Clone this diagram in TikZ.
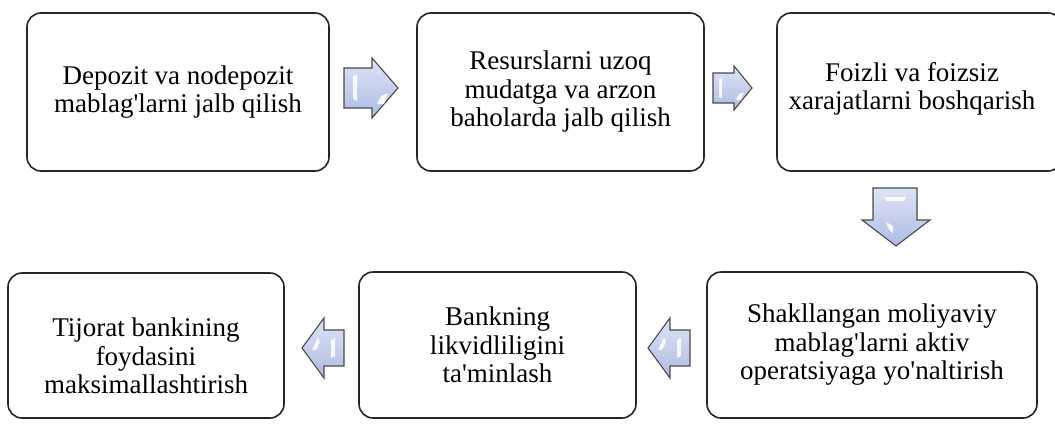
\documentclass[tikz,border=0pt]{standalone}
\usepackage{fontspec}
\setmainfont{Liberation Serif}[Ligatures=TeXOff]
\definecolor{boxline}{HTML}{262626}
\definecolor{arrline}{HTML}{4A4A4A}
\definecolor{arrtop}{HTML}{DDE4F6}
\definecolor{arrbot}{HTML}{AEBCE3}
\begin{document}
\begin{tikzpicture}[x=1pt,y=-1pt,
  box/.style={draw=boxline, line width=1.6pt, rounded corners=14pt, inner sep=0pt},
  txt/.style={align=center, font=\fontsize{27}{28.5}\selectfont, inner sep=0pt},
  flow/.style={draw=arrline, line width=1.1pt, line join=miter, top color=arrtop, bottom color=arrbot},
  gloss/.style={fill=white, opacity=0.85, draw=none}
]
\useasboundingbox (0,0) rectangle (1055,426);
\clip (0,0) rectangle (1055,426);

% top row
\node[box, minimum width=302, minimum height=158, txt] (b1) at (178,92)
  {Depozit va nodepozit\\mablag'larni jalb qilish};
\node[box, minimum width=287, minimum height=158, txt] (b2) at (560.5,92)
  {Resurslarni uzoq\\mudatga va arzon\\baholarda jalb qilish};
\node[box, minimum width=285, minimum height=158] (b3) at (919.5,92) {};
\node[txt] (t3) at (912,89) {Foizli va foizsiz\\xarajatlarni boshqarish};

% bottom row
\node[box, minimum width=330, minimum height=146, txt] (b4) at (872,345)
  {Shakllangan moliyaviy\\mablag'larni aktiv\\operatsiyaga yo'naltirish};
\node[box, minimum width=277, minimum height=146, txt] (b5) at (497.5,345)
  {Bankning\\likvidliligini\\ta'minlash};
\node[box, minimum width=276, minimum height=145] (b6) at (146,345.5) {};
\node[txt] (t6) at (146,356) {Tijorat bankining\\foydasini\\maksimallashtirish};

% block arrows
\draw[flow] (344,68) -- (372,68) -- (372,58) -- (398,88) -- (372,118) -- (372,108) -- (344,108) -- cycle;
\fill[gloss] (353,76) -- (357,74) -- (357,101) -- (353,99) -- cycle;
\fill[gloss] (381,96) -- (388,93) -- (384,104) -- (377,104) -- cycle;

\draw[flow] (713,73) -- (734,73) -- (734,66) -- (752,88) -- (734,110) -- (734,103) -- (713,103) -- cycle;
\fill[gloss] (719,79) -- (722,78) -- (722,98) -- (719,97) -- cycle;
\fill[gloss] (739,94) -- (744,92) -- (741,100) -- (736,100) -- cycle;

\draw[flow] (873,188) -- (917,188) -- (917,220) -- (930,220) -- (896,246) -- (862,220) -- (873,220) -- cycle;
\fill[gloss] (884,197) -- (906,197) -- (904,201) -- (886,201) -- cycle;
\fill[gloss] (886,222) -- (893,226) -- (893,233) -- (889,230) -- cycle;

\draw[flow] (690,330) -- (670,330) -- (670,318) -- (648,348) -- (670,378) -- (670,366) -- (690,366) -- cycle;
\fill[gloss] (681,338) -- (677,340) -- (677,358) -- (681,356) -- cycle;
\fill[gloss] (664,337) -- (658,350) -- (662,350) -- (666,342) -- cycle;

\draw[flow] (344,330) -- (324,330) -- (324,318) -- (302,348) -- (324,378) -- (324,366) -- (344,366) -- cycle;
\fill[gloss] (335,338) -- (331,340) -- (331,358) -- (335,356) -- cycle;
\fill[gloss] (318,337) -- (312,350) -- (316,350) -- (320,342) -- cycle;
\end{tikzpicture}
\end{document}
